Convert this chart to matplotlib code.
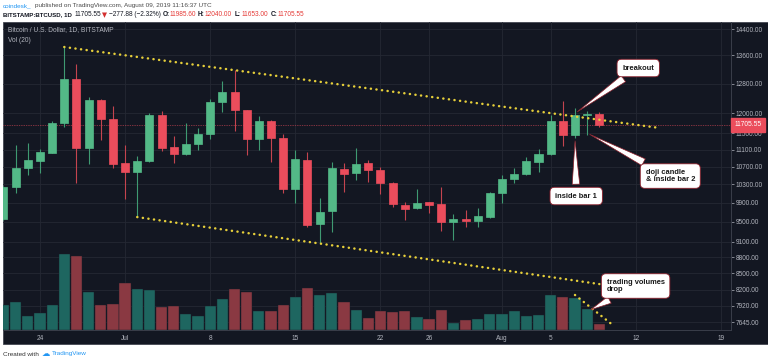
import numpy as np
import matplotlib
matplotlib.use("Agg")
import matplotlib.pyplot as plt
from matplotlib.patches import Rectangle
from matplotlib.ticker import NullLocator, FixedLocator
import matplotlib.transforms as mtransforms

plt.rcParams['font.family'] = ['Liberation Sans', 'DejaVu Sans']

# daily candles, 2019-06-21 .. 2019-08-09
dates = np.arange(np.datetime64('2019-06-21'), np.datetime64('2019-08-10'))
opens = [9550, 10240, 10665, 10828, 11017, 11754, 12926, 11136, 12353, 11856,
         10781, 10574, 10828, 11959, 11160, 10993, 11233, 11478, 12299, 12568,
         12089, 11355, 11805, 11380, 10192, 10851, 9450, 9720, 10642, 10551,
         10781, 10619, 10325, 9846, 9783, 9910, 9868, 9491, 9553, 9512,
         9594, 10105, 10415, 10528, 10804, 10993, 11805, 11453, 11959, 11985.6]
highs = [10260, 11209, 11257, 11112, 11805, 13851, 13352, 12433, 12380, 12194,
         11209, 10945, 12011, 12063, 11429, 11754, 11628, 12380, 12870, 13180,
         12100, 11933, 11831, 11478, 11088, 11040, 9996, 10804, 10781, 11136,
         10851, 10688, 10340, 9910, 10192, 9910, 10237, 9657, 9741, 9783,
         10127, 10505, 10665, 10922, 11112, 11959, 12326, 12141, 12063, 12040]
lows = [9540, 10105, 10505, 10551, 11017, 11653, 10325, 10758, 11330, 10665,
        9975, 9594, 10800, 11064, 10781, 10969, 11088, 11355, 12037, 11553,
        10969, 11088, 10804, 10105, 9889, 9389, 9070, 9289, 10127, 10392,
        10348, 10083, 9804, 9533, 9762, 9678, 9309, 9129, 9389, 9389,
        9580, 9889, 10325, 10500, 10574, 10980, 11184, 11380, 11453, 11653]
closes = [10240, 10665, 10851, 11040, 11754, 12926, 11136, 12353, 11856, 10758,
          10574, 10828, 11959, 11136, 10993, 11233, 11478, 12299, 12568, 12089,
          11355, 11805, 11380, 10192, 10875, 9430, 9699, 10665, 10528, 10758,
          10619, 10325, 9868, 9762, 9889, 9846, 9491, 9553, 9512, 9615,
          10105, 10415, 10528, 10828, 10993, 11805, 11453, 11959, 11985.6, 11705.55]
volumes = [25, 28, 14, 17, 25, 76, 74, 38, 25, 26,
           47, 41, 40, 23, 24, 16, 14, 24, 31, 41,
           38, 19, 19, 25, 33, 42, 35, 37, 28, 20,
           12, 19, 18, 19, 13, 11, 20, 7, 10, 11,
           16, 16, 19, 14, 15, 35, 33, 32, 21, 6]

price_ticks = [14400, 13600, 12800, 12000, 11500, 11100, 10700, 10300, 9900,
               9500, 9100, 8800, 8500, 8200, 7920, 7645]
date_ticks = ['2019-06-24', '2019-07-01', '2019-07-08', '2019-07-15', '2019-07-22',
              '2019-07-26', '2019-08-01', '2019-08-05', '2019-08-12', '2019-08-19']
date_labels = ['24', 'Jul', '8', '15', '22', '26', 'Aug', '5', '12', '19']
last_price = 11705.55

# trend lines (date, value)
upper_line = (['2019-06-26', '2019-08-14'], [13851, 11628])
lower_line = (['2019-07-02', '2019-08-09'], [9594, 8302])
vol_line = (['2019-08-07', '2019-08-10'], [35, 6])

ref = np.datetime64('2019-06-24')
def day(d):
    return (np.array(d, dtype='datetime64[D]') - ref).astype(float)

x = day(dates)
opens = np.array(opens); closes = np.array(closes)
highs = np.array(highs); lows = np.array(lows)
up = closes >= opens

BG = '#131722'
GREEN, RED = '#53b987', '#eb4d5c'
TXT = '#b2b5be'
YEL = '#e6cf3a'
GRID = '#242833'
DOTS = dict(color=YEL, lw=1.8, ls=(0, (0.05, 2.2)), dash_capstyle='round')

W, H = 768, 363
fig = plt.figure(figsize=(W / 100, H / 100), dpi=100)
fig.patch.set_facecolor('white')
fig.add_artist(Rectangle((3 / W, 1 - 344 / H), 765 / W, 322 / H, transform=fig.transFigure,
                         facecolor=BG, edgecolor='#434651', lw=0.6, zorder=0))

pos = [3 / W, 1 - 330 / H, 728 / W, 308 / H]
ax = fig.add_axes(pos)
axv = ax.twinx()
ax.set_zorder(axv.get_zorder() + 1)
ax.patch.set_visible(False)
axv.patch.set_visible(False)

ax.set_yscale('log')
ax.set_xlim(-3.04, 56.83)
ax.set_ylim(7518, 14620)

# grid drawn in the lower (volume) axes so bars sit on top of it
gtrans = mtransforms.blended_transform_factory(axv.transAxes, ax.transData)
for p in price_ticks:
    axv.plot([0, 1], [p, p], transform=gtrans, color=GRID, lw=0.6, zorder=0)
for d in day(date_ticks):
    axv.axvline(d, color=GRID, lw=0.6, zorder=0)

# volume
vcol = np.where(up, '#1e6660', '#8a3942')
axv.bar(x, volumes, width=0.92, color=vcol, edgecolor='#1a1e29', lw=0.3, zorder=2)
axv.set_ylim(0, 308)
axv.set_yticks([])
for s in axv.spines.values():
    s.set_visible(False)
axv.plot(day(vol_line[0]), vol_line[1], zorder=3, **DOTS)

# candles
ccol = np.where(up, GREEN, RED)
wcol = np.where(up, '#3f9a72', '#c4444f')
ax.vlines(x, lows, highs, colors=wcol, lw=0.8, zorder=3)
ax.bar(x, np.abs(closes - opens), bottom=np.minimum(opens, closes), width=0.66,
       color=ccol, edgecolor=ccol, lw=0.5, zorder=4)

ax.yaxis.tick_right()
ax.yaxis.set_major_locator(FixedLocator(price_ticks))
ax.yaxis.set_minor_locator(NullLocator())
ax.set_yticklabels(['%.2f' % p for p in price_ticks])
ax.set_xticks(day(date_ticks))
ax.set_xticklabels(date_labels)
ax.tick_params(axis='y', labelsize=4.7, colors=TXT, length=2, width=0.5, pad=1.5)
ax.tick_params(axis='x', labelsize=4.7, colors=TXT, length=0, pad=3.5)
for k in ['left', 'top']:
    ax.spines[k].set_visible(False)
for k in ['right', 'bottom']:
    ax.spines[k].set_color('#3a3e4a')
    ax.spines[k].set_linewidth(0.7)

# trend lines
ax.plot(day(upper_line[0]), upper_line[1], zorder=5, **DOTS)
ax.plot(day(lower_line[0]), lower_line[1], zorder=5, **DOTS)

# last price line and label
ax.axhline(last_price, color=RED, lw=0.5, ls=(0, (1, 1.5)), zorder=2)
trans = mtransforms.blended_transform_factory(ax.transAxes, ax.transData)
ax.text(1.005, last_price, '%.2f' % last_price, transform=trans, fontsize=4.8,
        color='white', va='center', ha='left', clip_on=False,
        bbox=dict(boxstyle='square,pad=0.5', fc=RED, ec=RED))

ax.text(5 / 728, 1 - 8 / 308, 'Bitcoin / U.S. Dollar, 1D, BITSTAMP', transform=ax.transAxes,
        fontsize=4.8, color=TXT, va='center')
ax.text(5 / 728, 1 - 18 / 308, 'Vol (20)', transform=ax.transAxes,
        fontsize=4.8, color=TXT, va='center')

# callouts
box = dict(boxstyle='round,pad=0.7,rounding_size=0.6', fc='white', ec='#8b1e2a', lw=0.6)
arrow = dict(arrowstyle='wedge,tail_width=1.0,shrink_factor=0.5', fc='white',
             ec='#8b1e2a', lw=0.5)
tkw = dict(fontsize=5.4, fontweight='bold', color='#1a1a1a', zorder=10)
ax.annotate('breakout', xy=(day('2019-08-07'), 12000), xytext=(day('2019-08-12') + 0.2, 13237),
            ha='center', va='center', bbox=box, arrowprops=arrow, **tkw)
ax.annotate('inside bar 1', xy=(day('2019-08-07'), 11380), xytext=(day('2019-08-07') + 0.1, 10040),
            ha='center', va='center', bbox=box, arrowprops=arrow, **tkw)
ax.annotate('doji candle\n& inside bar 2', xy=(day('2019-08-08'), 11503),
            xytext=(day('2019-08-12') + 0.8, 10483), ha='left', va='center',
            linespacing=1.0, bbox=box, arrowprops=arrow, **tkw)
ax.annotate('trading volumes\ndrop', xy=(day('2019-08-09') - 0.9, 19),
            xytext=(day('2019-08-09') + 0.6, 44), xycoords=axv.transData,
            textcoords=axv.transData, ha='left', va='center',
            linespacing=1.0, bbox=box, arrowprops=arrow, **tkw)

# header and footer
def ftext(px, py, s, **kw):
    fig.text(px / W, 1 - py / H, s, va='center', ha='left', **kw)

ftext(3, 6, 'coindesk_', fontsize=4.6, color='#2196f3')
ftext(35, 6, 'published on TradingView.com, August 09, 2019 11:16:37 UTC', fontsize=4.6, color='#4a4a4a')
ftext(3, 15, 'BITSTAMP:BTCUSD, 1D', fontsize=4.4, color='#131722', fontweight='bold')
ftext(75, 15, '11705.55', fontsize=4.7, color='#131722')
ftext(102, 15, '\u25bc', fontsize=4.7, color='#d32f2f', family='DejaVu Sans')
ftext(109, 15, '\u2212277.88 (\u22122.32%)', fontsize=4.7, color='#131722')
for px, lab, val in [(163, 'O:', '11985.60'), (198, 'H:', '12040.00'),
                     (235, 'L:', '11653.00'), (271, 'C:', '11705.55')]:
    ftext(px, 15, lab, fontsize=4.7, color='#131722', fontweight='bold')
    ftext(px + 7, 15, val, fontsize=4.7, color='#e53935')

ftext(3, 354, 'Created with', fontsize=4.6, color='#333333')
ftext(42, 354, '\u2601', fontsize=6, color='#2196f3', family='DejaVu Sans')
ftext(52, 354, 'TradingView', fontsize=4.6, color='#2196f3')

fig.savefig('out.png', dpi=100, facecolor='white')
